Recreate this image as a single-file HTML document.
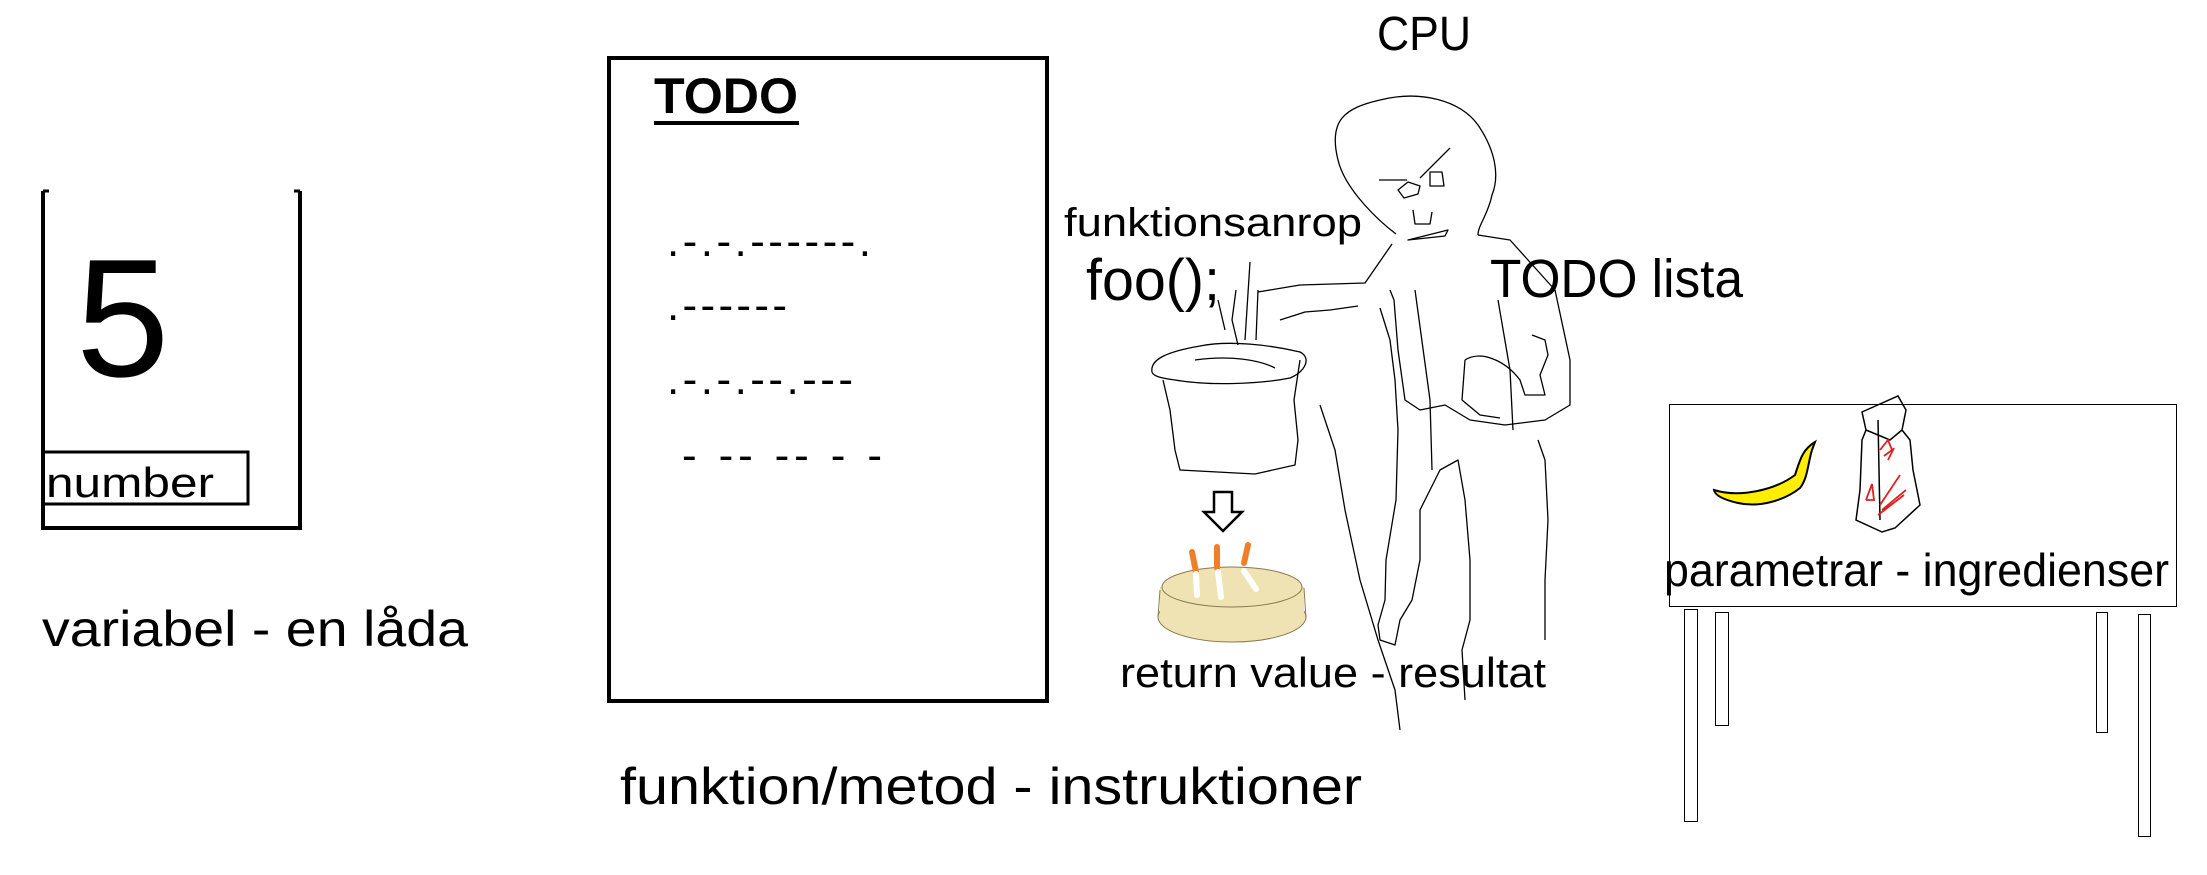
<!DOCTYPE html>
<html><head><meta charset="utf-8"><style>
html,body{margin:0;padding:0;background:#fff;width:2207px;height:875px;overflow:hidden}
svg{display:block}
text{font-family:"Liberation Sans",sans-serif;fill:#000}
</style></head><body>
<svg width="2207" height="875" viewBox="0 0 2207 875">
<!-- variable box -->
<path d="M43,191 V528 H300 V191" fill="none" stroke="#000" stroke-width="4"/>
<path d="M43,191 h6 M300,191 h-6" stroke="#000" stroke-width="3"/>
<text x="76" y="376" font-size="168">5</text>
<rect x="43" y="452" width="205" height="52" fill="none" stroke="#000" stroke-width="3"/>
<text x="46" y="497" font-size="42" textLength="168" lengthAdjust="spacingAndGlyphs">number</text>
<text x="42" y="646" font-size="50" textLength="426" lengthAdjust="spacingAndGlyphs">variabel - en låda</text>

<!-- TODO box -->
<rect x="609" y="58" width="438" height="643" fill="none" stroke="#000" stroke-width="4"/>
<text x="654" y="113" font-size="50" font-weight="bold" textLength="144" lengthAdjust="spacingAndGlyphs">TODO</text>
<rect x="654" y="121" width="145" height="4" fill="#000"/>
<text x="667" y="256" font-size="44" textLength="204" lengthAdjust="spacing">.-.-.------.</text>
<text x="667" y="320" font-size="44" textLength="120" lengthAdjust="spacing">.------</text>
<text x="667" y="394" font-size="44" textLength="186" lengthAdjust="spacing">.-.-.--.---</text>
<text x="682" y="470" font-size="44" textLength="200" lengthAdjust="spacing">- -- --   - -</text>
<text x="620" y="804" font-size="52" textLength="742" lengthAdjust="spacingAndGlyphs">funktion/metod - instruktioner</text>

<!-- labels -->
<text x="1377" y="50" font-size="48" textLength="94" lengthAdjust="spacingAndGlyphs">CPU</text>
<text x="1064" y="236" font-size="40" textLength="298" lengthAdjust="spacingAndGlyphs">funktionsanrop</text>
<text x="1086" y="300" font-size="58" textLength="134" lengthAdjust="spacingAndGlyphs">foo();</text>
<text x="1490" y="297" font-size="54" textLength="253" lengthAdjust="spacingAndGlyphs">TODO lista</text>

<!-- person sketch -->
<g fill="none" stroke="#000" stroke-width="1.3" stroke-linejoin="round">
<path d="M1396,234 C1380,222 1345,190 1338,160 C1328,120 1345,108 1380,100 C1420,90 1460,100 1478,125 C1495,150 1500,175 1492,195 C1488,215 1478,225 1478,235"/>
<path d="M1379,180 h28 M1420,178 l30,-30 M1398,190 l10,-8 l12,4 l-2,8 l-14,4 z M1430,172 h12 l2,14 h-14 z M1413,210 l2,14 h15 l2,-12 M1408,240 l40,-10 l-3,6 z"/>
<path d="M1392,244 L1365,283 L1300,285 L1258,292"/>
<path d="M1258,290 L1256,340 M1250,262 L1245,340"/>
<path d="M1280,320 L1305,312 L1330,310 L1358,306"/>
<path d="M1236,290 L1232,320 L1238,345 M1218,300 L1225,330"/>
<path d="M1478,235 L1510,240 L1555,290 L1570,360 L1570,405 L1545,420 L1505,425 L1470,420 L1445,405 L1420,410 L1405,400 L1398,350 L1394,300 L1390,290"/>
<path d="M1415,290 L1430,400 L1432,470 M1498,300 L1510,370 L1513,430"/>
<path d="M1465,360 C1480,350 1505,360 1520,380 L1525,395 L1545,395 L1540,375 L1548,355 L1545,340 L1532,335"/>
<path d="M1465,360 L1462,400 L1480,415 L1500,418"/>
<path d="M1380,308 L1390,340 L1395,380 L1398,430 L1396,500 L1386,560 L1385,600 L1378,625 L1380,640 L1395,645 L1400,620 L1412,600 L1420,560 L1420,510 L1440,470 L1458,460 L1465,500 L1470,560 L1470,620 L1462,650 L1465,700"/>
<path d="M1320,405 L1335,450 L1345,510 L1360,580 L1378,640 L1395,690 L1400,730"/>
<path d="M1538,440 L1545,460 L1548,520 L1545,580 L1545,640"/>
</g>

<!-- bucket -->
<g fill="none" stroke="#000" stroke-width="1.3">
<path d="M1152,372 C1150,360 1165,352 1200,346 C1230,340 1270,345 1300,352 C1312,358 1305,372 1290,378 C1260,384 1210,386 1175,380 C1160,378 1153,376 1152,372 Z"/>
<path d="M1163,380 L1170,410 L1175,450 L1180,470 L1255,474 L1295,465 L1298,440 L1294,400 L1300,360"/>
<path d="M1195,360 C1230,355 1260,360 1275,368"/>
</g>
<!-- arrow -->
<path d="M1214,492 h18 v20 h10 l-19,19 l-19,-19 h10 z" fill="#fff" stroke="#000" stroke-width="2.5"/>
<!-- cake -->
<ellipse cx="1232" cy="617" rx="74" ry="25" fill="#efe2b3" stroke="#8a7a50" stroke-width="1"/>
<rect x="1160" y="587" width="144" height="30" fill="#efe2b3"/>
<ellipse cx="1232" cy="587" rx="70" ry="20" fill="#efe2b3" stroke="#8a7a50" stroke-width="1"/>
<path d="M1160,590 L1158,617 M1304,588 L1306,618" stroke="#8a7a50" stroke-width="1"/>
<g stroke-linecap="round" stroke-width="6">
<path d="M1192,552 L1196,572" stroke="#f07f2a"/><path d="M1196,574 L1197,595" stroke="#fff"/>
<path d="M1217,547 L1217,568" stroke="#f07f2a"/><path d="M1218,572 L1221,597" stroke="#fff"/>
<path d="M1248,545 L1244,563" stroke="#f07f2a"/><path d="M1244,571 L1256,589" stroke="#fff"/>
</g>
<text x="1120" y="687" font-size="42" textLength="426" lengthAdjust="spacingAndGlyphs">return value - resultat</text>

<!-- table -->
<g fill="none" stroke="#000" stroke-width="1">
<rect x="1669.5" y="404.5" width="507" height="202"/>
<rect x="1684.5" y="609.5" width="13" height="212"/>
<rect x="1715.5" y="612.5" width="13" height="113"/>
<rect x="2096.5" y="612.5" width="11" height="120"/>
<rect x="2138.5" y="614.5" width="12" height="222"/>
</g>
<text x="1664" y="586" font-size="46" textLength="505" lengthAdjust="spacingAndGlyphs">parametrar - ingredienser</text>
<!-- banana -->
<path d="M1714,490 C1740,498 1775,490 1795,475 C1800,460 1802,450 1815,442 L1812,450 C1808,462 1808,478 1800,488 C1785,500 1760,508 1738,503 C1725,500 1715,496 1714,490 Z" fill="#ffee00" stroke="#000" stroke-width="2"/>
<!-- bag -->
<g fill="none" stroke="#000" stroke-width="1.5">
<path d="M1862,412 L1898,396 L1906,410 L1902,430 L1910,440 L1913,470 L1920,505 L1895,528 L1882,532 L1856,520 L1860,490 L1862,440 L1866,430 Z"/>
<path d="M1878,420 L1880,520 M1866,430 L1890,440 L1902,430"/>
</g>
<g fill="none" stroke="#e02020" stroke-width="1.8">
<path d="M1880,450 l8,-10 l4,10 l-8,6 M1888,460 l6,-12"/>
<path d="M1866,500 l6,-16 l2,16 h-8 M1880,505 l20,-30 M1882,510 l24,-20 M1878,515 l26,-20"/>
</g>
</svg>
</body></html>
